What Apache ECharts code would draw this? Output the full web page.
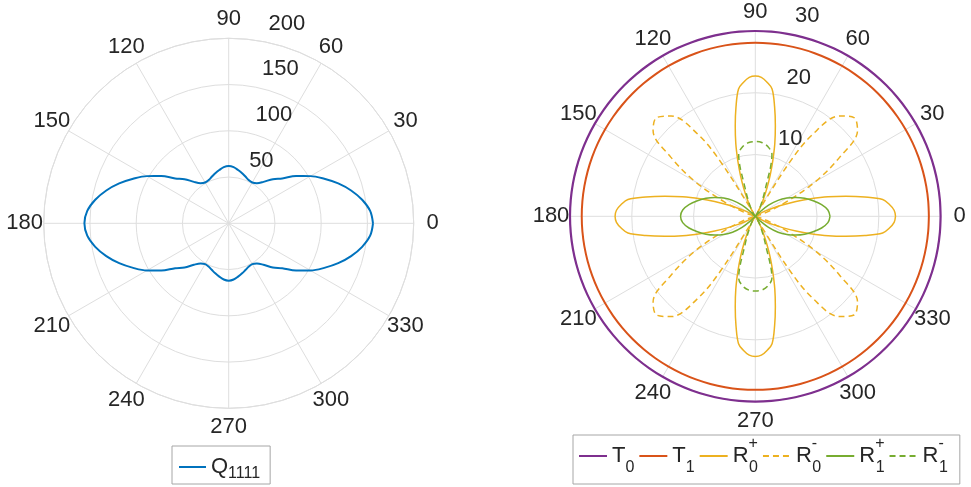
<!DOCTYPE html>
<html>
<head>
<meta charset="utf-8">
<script src="https://cdn.jsdelivr.net/npm/echarts@6/dist/echarts.min.js"></script>
<style>html,body{margin:0;padding:0;background:#fff}#c{width:971px;height:487px}</style>
</head>
<body>
<div id="c"></div>
<script>
// ---- data ----
const angles = [0,5,10,15,20,25,30,35,40,45,50,55,60,65,70,75,80,85,90,95,100,105,110,115,120,125,130,135,140,145,150,155,160,165,170,175,180,185,190,195,200,205,210,215,220,225,230,235,240,245,250,255,260,265,270,275,280,285,290,295,300,305,310,315,320,325,330,335,340,345,350,355,360];

const q1111 = [156,153.5,146.5,137,126,114,102,89,75.5,67.5,58.5,53,51,51.5,53.5,56,58.5,61,62,
  61,58.5,56,53.5,51.5,51,53,58.5,67.5,75.5,89,102,114,126,137,146.5,153.5,156,
  153.5,146.5,137,126,114,102,89,75.5,67.5,58.5,53,51,51.5,53.5,56,58.5,61,62,
  61,58.5,56,53.5,51.5,51,53,58.5,67.5,75.5,89,102,114,126,137,146.5,153.5,156];

const t0 = [30,30,30,30,30,30,30,30,30,30,30,30,30,30,30,30,30,30,30,30,30,30,30,30,30,30,30,30,30,30,30,30,30,30,30,30,30,30,30,30,30,30,30,30,30,30,30,30,30,30,30,30,30,30,30,30,30,30,30,30,30,30,30,30,30,30,30,30,30,30,30,30,30];
const t1 = [28.1,28.1,28.1,28.1,28.1,28.1,28.1,28.1,28.1,28.1,28.1,28.1,28.1,28.1,28.1,28.1,28.1,28.1,28.1,28.1,28.1,28.1,28.1,28.1,28.1,28.1,28.1,28.1,28.1,28.1,28.1,28.1,28.1,28.1,28.1,28.1,28.1,28.1,28.1,28.1,28.1,28.1,28.1,28.1,28.1,28.1,28.1,28.1,28.1,28.1,28.1,28.1,28.1,28.1,28.1,28.1,28.1,28.1,28.1,28.1,28.1,28.1,28.1,28.1,28.1,28.1,28.1,28.1,28.1,28.1,28.1,28.1,28.1];

const r0pAngles = [0,2.5,5,7.5,10,12.5,15,17.5,20,22.5,25,27.5,30,32.5,35,37.5,40,42.5,45,47.5,50,52.5,55,57.5,60,62.5,65,67.5,70,72.5,75,77.5,80,82.5,85,87.5,90,
  92.5,95,97.5,100,102.5,105,107.5,110,112.5,115,117.5,120,122.5,125,127.5,130,132.5,135,137.5,140,142.5,145,147.5,150,152.5,155,157.5,160,162.5,165,167.5,170,172.5,175,177.5,180,
  182.5,185,187.5,190,192.5,195,197.5,200,202.5,205,207.5,210,212.5,215,217.5,220,222.5,225,227.5,230,232.5,235,237.5,240,242.5,245,247.5,250,252.5,255,257.5,260,262.5,265,267.5,270,
  272.5,275,277.5,280,282.5,285,287.5,290,292.5,295,297.5,300,302.5,305,307.5,310,312.5,315,317.5,320,322.5,325,327.5,330,332.5,335,337.5,340,342.5,345,347.5,350,352.5,355,357.5,360];
const r0Plus = [22.7,22.5,21.8,20.8,18.0,15.0,12.2,9.4,7.0,4.9,3.2,2.0,1.1,0.6,0.3,0.12,0.05,0,0,0,0.05,0.12,0.3,0.6,1.1,2.0,3.2,4.9,7.0,9.4,12.2,15.0,18.0,20.8,21.8,22.5,22.7,
  22.5,21.8,20.8,18.0,15.0,12.2,9.4,7.0,4.9,3.2,2.0,1.1,0.6,0.3,0.12,0.05,0,0,0,0.05,0.12,0.3,0.6,1.1,2.0,3.2,4.9,7.0,9.4,12.2,15.0,18.0,20.8,21.8,22.5,22.7,
  22.5,21.8,20.8,18.0,15.0,12.2,9.4,7.0,4.9,3.2,2.0,1.1,0.6,0.3,0.12,0.05,0,0,0,0.05,0.12,0.3,0.6,1.1,2.0,3.2,4.9,7.0,9.4,12.2,15.0,18.0,20.8,21.8,22.5,22.7,
  22.5,21.8,20.8,18.0,15.0,12.2,9.4,7.0,4.9,3.2,2.0,1.1,0.6,0.3,0.12,0.05,0,0,0,0.05,0.12,0.3,0.6,1.1,2.0,3.2,4.9,7.0,9.4,12.2,15.0,18.0,20.8,21.8,22.5,22.7];

const r0mAngles = [0,5,10,15,20,25,30,35,40,45,50,55,57.5,60,65,70,75,80,85,90,
  95,100,105,110,115,120,122.5,125,130,135,140,145,150,155,160,165,170,175,180,
  185,190,195,200,205,210,215,220,225,230,235,237.5,240,245,250,255,260,265,270,
  275,280,285,290,295,300,302.5,305,310,315,320,325,330,335,340,345,350,355,360];
const r0Minus = [0,0,0,0.3,2.0,5.6,11.3,16.7,21.6,22.6,21.2,16.2,10.6,1.0,0,0,0,0,0,0,
  0,0,0,0,0,1.0,10.6,16.2,21.2,22.6,21.6,16.7,11.3,5.6,2.0,0.3,0,0,0,
  0,0,0.3,2.0,5.6,11.3,16.7,21.6,22.6,21.2,16.2,10.6,1.0,0,0,0,0,0,0,
  0,0,0,0,0,1.0,10.6,16.2,21.2,22.6,21.6,16.7,11.3,5.6,2.0,0.3,0,0,0];

const r1Plus = [12.1,11.8,10.9,9.7,8.5,7.2,5.9,4.5,2.8,0.8,0.1,0,0,0,0,0,0,0,0,
  0,0,0,0,0,0,0,0.1,0.8,2.8,4.5,5.9,7.2,8.5,9.7,10.9,11.8,12.1,
  11.8,10.9,9.7,8.5,7.2,5.9,4.5,2.8,0.8,0.1,0,0,0,0,0,0,0,0,
  0,0,0,0,0,0,0,0.1,0.8,2.8,4.5,5.9,7.2,8.5,9.7,10.9,11.8,12.1];

const r1Minus = [0,0,0,0,0,0,0,0,0,0,0.15,0.5,1.2,2.4,4.8,10.4,11.5,12.0,12.1,
  12.0,11.5,10.4,4.8,2.4,1.2,0.5,0.15,0,0,0,0,0,0,0,0,0,0,
  0,0,0,0,0,0,0,0,0,0.15,0.5,1.2,2.4,4.8,10.4,11.5,12.0,12.1,
  12.0,11.5,10.4,4.8,2.4,1.2,0.5,0.15,0,0,0,0,0,0,0,0,0,0];

const angleTickStep = 30;
const leftRadiusMax = 200, leftRadiusStep = 50;
const rightRadiusMax = 30, rightRadiusStep = 10;

const legendText = {
  'Q1111': 'Q{sb|1111}',
  'T0': 'T{sb|0}', 'T1': 'T{sb|1}',
  'R0+': 'R{sp|+}{sb|0}', 'R0-': 'R{sp|-}{sb|0}',
  'R1+': 'R{sp|+}{sb|1}', 'R1-': 'R{sp|-}{sb|1}'
};

// ---- style / layout ----
const FONT = '"Liberation Sans", Arial, Helvetica, sans-serif';
const GRID = '#dedede';
const TXT = '#262626';
const C = {q:'#0072BD', t0:'#7E2F8E', t1:'#D95319', r0:'#EDB120', r1:'#77AC30'};
const LEFT_CENTER = [228.7, 223.3], LEFT_R = 185;
const RIGHT_CENTER = [755.3, 216.3], RIGHT_R = 185.3;
// an unclipped overlay polar with the same scale as the right plot (room for the thick outer line)
const OVERLAY_R = 192;

function angleAxis(polarIndex) {
  return {
    polarIndex, type: 'value', min: 0, max: 360, interval: angleTickStep,
    startAngle: 0, clockwise: false,
    axisLine: {show: true, lineStyle: {color: GRID, width: 1}},
    axisTick: {show: false},
    splitLine: {show: true, lineStyle: {color: GRID, width: 1}},
    axisLabel: {
      show: true, margin: 18.5,
      formatter: v => (v >= 360 ? '' : '{a|' + v + '}'),
      rich: {a: {width: 1, lineHeight: 1, align: 'center', verticalAlign: 'middle',
                 fontSize: 22, fontFamily: FONT, color: TXT}}
    }
  };
}
function hiddenAngleAxis(polarIndex, startAngle) {
  return {polarIndex, type: 'value', min: 0, max: 360, startAngle, clockwise: false, show: false};
}
function gridRadiusAxis(polarIndex, max, step) {
  return {
    polarIndex, type: 'value', min: 0, max, interval: step,
    axisLine: {show: false}, axisTick: {show: false}, axisLabel: {show: false},
    splitLine: {show: true, lineStyle: {color: GRID, width: 1}}
  };
}
function labelRadiusAxis(polarIndex, max, step) {
  return {
    polarIndex, type: 'value', min: 0, max, interval: step,
    axisLine: {show: false}, axisTick: {show: false}, splitLine: {show: false},
    axisLabel: {show: true, margin: 0, showMinLabel: false, align: 'left', verticalAlign: 'middle',
      padding: [0, 0, 0, 14], fontSize: 22, fontFamily: FONT, color: TXT,
      formatter: v => '{r|' + v + '}',
      rich: {r: {fontSize: 22, fontFamily: FONT, color: TXT, lineHeight: 55, verticalAlign: 'top'}}}
  };
}
function lineSeries(name, polarIndex, rs, angs, color, width, dashed) {
  return {
    name, type: 'line', coordinateSystem: 'polar', polarIndex,
    data: angs.map((a, i) => [rs[i], a]),
    symbol: 'none', showSymbol: false, smooth: 0.35,
    lineStyle: {color, width, type: dashed ? [6, 4] : 'solid'},
    itemStyle: {color}
  };
}
const hiddenSymbol = {color: 'rgba(0,0,0,0)', borderColor: 'rgba(0,0,0,0)', borderWidth: 0, opacity: 0};

const chart = echarts.init(document.getElementById('c'), null, {renderer: 'canvas'});
chart.setOption({
  animation: false,
  backgroundColor: '#ffffff',
  polar: [
    {center: LEFT_CENTER, radius: LEFT_R},
    {center: LEFT_CENTER, radius: LEFT_R},
    {center: RIGHT_CENTER, radius: RIGHT_R},
    {center: RIGHT_CENTER, radius: RIGHT_R},
    {center: RIGHT_CENTER, radius: OVERLAY_R}
  ],
  angleAxis: [angleAxis(0), hiddenAngleAxis(1, 82), angleAxis(2), hiddenAngleAxis(3, 82), hiddenAngleAxis(4, 0)],
  radiusAxis: [
    gridRadiusAxis(0, leftRadiusMax, leftRadiusStep),
    labelRadiusAxis(1, leftRadiusMax, leftRadiusStep),
    gridRadiusAxis(2, rightRadiusMax, rightRadiusStep),
    labelRadiusAxis(3, rightRadiusMax, rightRadiusStep),
    {polarIndex: 4, type: 'value', min: 0, max: rightRadiusMax * OVERLAY_R / RIGHT_R, show: false}
  ],
  legend: [
    {
      data: ['Q1111'], left: 172, top: 446, orient: 'horizontal',
      itemWidth: 27, itemHeight: 14, itemGap: 4, padding: [6, 10, 2, 6],
      borderColor: '#a6a6a6', borderWidth: 1, selectedMode: false,
      itemStyle: hiddenSymbol,
      formatter: n => legendText[n],
      textStyle: {fontSize: 22, fontFamily: FONT, color: TXT, lineHeight: 30,
        rich: {sb: {fontSize: 16, fontFamily: FONT, color: TXT, verticalAlign: 'bottom', lineHeight: 30}}}
    },
    {
      data: ['T0', 'T1', 'R0+', 'R0-', 'R1+', 'R1-'], left: 573, top: 435, orient: 'horizontal',
      itemWidth: 28, itemHeight: 14, itemGap: 4, padding: [1, 12, 8, 5],
      borderColor: '#a6a6a6', borderWidth: 1, selectedMode: false,
      itemStyle: hiddenSymbol,
      formatter: n => legendText[n],
      textStyle: {fontSize: 22, fontFamily: FONT, color: TXT, lineHeight: 40,
        rich: {
          sb: {fontSize: 16, fontFamily: FONT, color: TXT, verticalAlign: 'bottom', lineHeight: 40},
          sp: {fontSize: 16, fontFamily: FONT, color: TXT, verticalAlign: 'top', lineHeight: 40, width: 0.5}
        }}
    }
  ],
  series: [
    lineSeries('Q1111', 0, q1111, angles, C.q, 2, false),
    lineSeries('T0', 4, t0, angles, C.t0, 2.2, false),
    lineSeries('T1', 2, t1, angles, C.t1, 2, false),
    lineSeries('R0+', 2, r0Plus, r0pAngles, C.r0, 1.5, false),
    lineSeries('R0-', 2, r0Minus, r0mAngles, C.r0, 1.5, true),
    lineSeries('R1+', 2, r1Plus, angles, C.r1, 1.5, false),
    lineSeries('R1-', 2, r1Minus, angles, C.r1, 1.5, true)
  ]
});
</script>
</body>
</html>
